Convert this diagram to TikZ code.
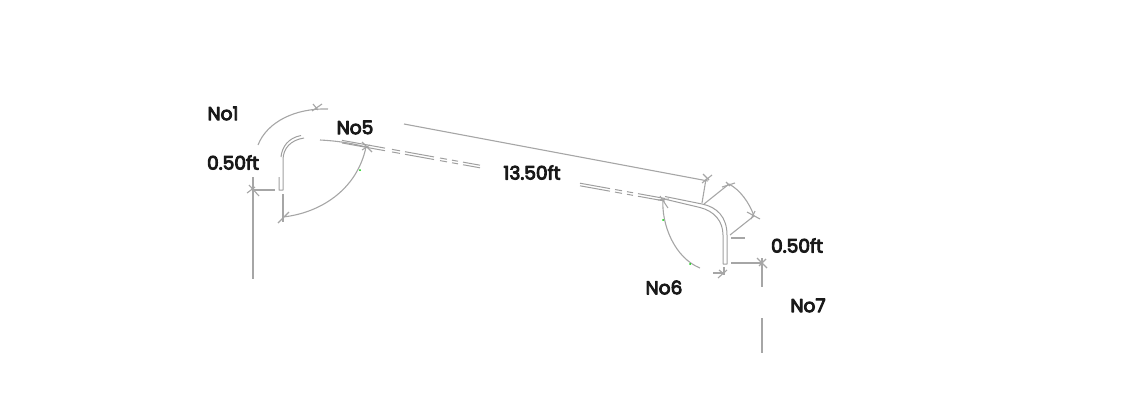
\documentclass[tikz,border=0pt]{standalone}
\usepackage{fontspec}
\newfontfamily\lblfont{Poppins}[FakeBold=5]
\tikzset{
	pipeline/.style={draw=gray!75, line width=1pt},
	leader/.style={draw=gray!70, line width=1.1pt},
	lbl/.style={font=\lblfont\fontsize{18.6}{21}\selectfont, text=black!90, inner sep=0pt},
	greendot/.style={fill=green!80!black, draw=none}
}
\begin{document}
\begin{tikzpicture}[x=1pt, y=-1pt, line join=round]
	\def\pipeu#1{151.7+0.18*(#1-405)}
	\useasboundingbox (0,0) rectangle (1138,413);
	% labels
	\node[lbl] (no1) at (223,113.5) {No1};
	\node[lbl] (no5) at (355,127.5) {No5};
	\node[lbl] (lenA) at (233,162.5) {0.50ft};
	\node[lbl] (lenB) at (532,172.5) {13.50ft};
	\node[lbl] (lenC) at (797,245.5) {0.50ft};
	\node[lbl] (no6) at (664,287.5) {No6};
	\node[lbl] (no7) at (808,305.5) {No7};
	% left bend
	\draw[pipeline] (279,177)--(279,190)--(283,190)--(283,160) .. controls (283,148) and (291,140) .. (304,138);
	\draw[pipeline] (281,157) .. controls (282,147) and (288,138) .. (301,135.5);
	\draw[leader] (253,177)--(253,279);
	\draw[leader] (253,190)--(275,190);
	\draw[leader] (249,185)--(259,196) (255,187)--(247,193);
	\draw[leader] (258,145) .. controls (267,122) and (295,108) .. (328,109);
	\draw[leader] (322,104)--(312,111) (313,104)--(318,110);
	\draw[leader] (283,194)--(283,222);
	\draw[leader] (278,223)--(289,212) (283,217) .. controls (320,213) and (357,190) .. (366,147);
	\draw[leader] (362,142)--(372,152) (370,145)--(362,150);
	\draw[leader] (320,140) .. controls (340,141) and (355,144) .. (366,147);
	% straight run, broken pipe
	\foreach \a/\b in {342/380,380/385,392/400,405/434,440/447,452/458,463/480,580/610,615/622,627/633,638/665}{
		\draw[pipeline] (\a,{\pipeu{\a}}) -- (\b,{\pipeu{\b}});
		\draw[pipeline] (\a,{\pipeu{\a}+2.6}) -- (\b,{\pipeu{\b}+2.6});
	}
	\draw[leader] (404,124)--(708,181);
	\draw[leader] (702,183)--(712,175) (703,174)--(709,180);
	% right bend
	\draw[pipeline] (665,196.5)--(702,204) .. controls (717,207) and (727,217) .. (727,235)--(727,264)--(723,264)--(723,235) .. controls (723,221) and (714,211) .. (700,207.5)--(665,199.2);
	\draw[leader] (702,203)--(706,179);
	\draw[leader] (704,204)--(729,184);
	\draw[leader] (722,187)--(735,183) (726,182)--(730,186);
	\draw[leader] (729,184) .. controls (740,190) and (749,202) .. (754,216);
	\draw[leader] (747,212)--(760,219) (755,211)--(751,219);
	\draw[leader] (754,216)--(730,235);
	\draw[leader] (731,238)--(745,238);
	\draw[leader] (731,263)--(762,263);
	\draw[leader] (757,258)--(767,268) (766,259)--(759,266);
	\draw[leader] (762,258)--(762,287) (762,318)--(762,353);
	\draw[leader] (663,198) .. controls (661,225) and (675,258) .. (700,268);
	\draw[leader] (660,196)--(668,208) (658,200)--(669,199);
	\draw[leader] (713,273)--(723,273) (724,267)--(724,275);
	\draw[leader] (718,278)--(727,270) (719,270)--(724,274);
	% stray colour marks
	\fill[greendot] (360,170) circle (1pt) (663,220) circle (1pt) (690,264) circle (1pt);
\end{tikzpicture}
\end{document}
